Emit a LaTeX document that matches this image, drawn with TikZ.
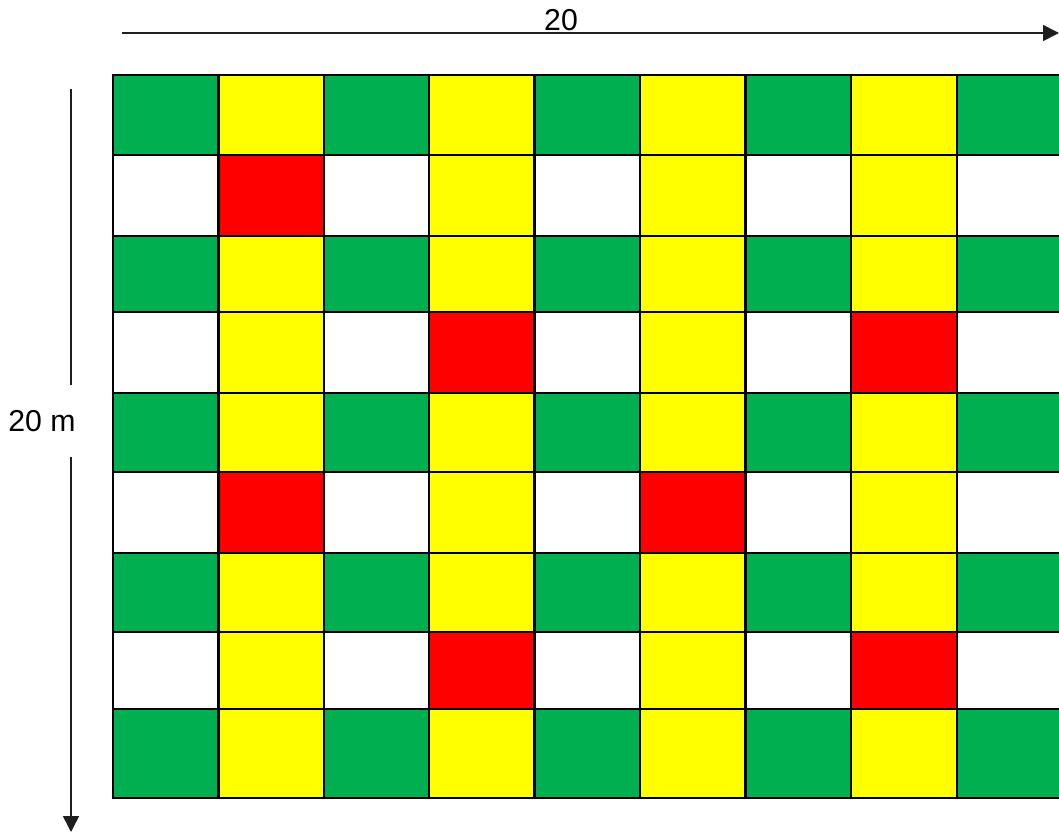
\documentclass[tikz,border=0pt]{standalone}
\usepackage{fontspec}
\setmainfont{Liberation Sans}
\usetikzlibrary{arrows.meta}
\definecolor{leaf}{RGB}{0,176,80}
\definecolor{sun}{RGB}{255,255,0}
\definecolor{fire}{RGB}{255,0,0}
\definecolor{ink}{RGB}{30,30,30}
\tikzset{
  >={Triangle[length=4mm,width=4mm]},
  gridline/.style={black,line width=1.5pt,line cap=rect},
  dim/.style={->,draw=ink,line width=1.1pt},
  lab/.style={font=\fontsize{21.5}{25}\selectfont,text=black},
}
% cell edges (pixels of the plan)
\def\xs{{113,218.5,324,429,534.5,640,745.5,851,957,1059}}
\def\ys{{75,155,236,312,393,472,553,632,709,798}}

\begin{document}
\begin{tikzpicture}[x=0.025cm,y=-0.025cm]
    \useasboundingbox (0,0) rectangle (1059,833);
    % cells
    \foreach \row [count=\i] in {
      {leaf,sun,leaf,sun,leaf,sun,leaf,sun,leaf},
      {white,fire,white,sun,white,sun,white,sun,white},
      {leaf,sun,leaf,sun,leaf,sun,leaf,sun,leaf},
      {white,sun,white,fire,white,sun,white,fire,white},
      {leaf,sun,leaf,sun,leaf,sun,leaf,sun,leaf},
      {white,fire,white,sun,white,fire,white,sun,white},
      {leaf,sun,leaf,sun,leaf,sun,leaf,sun,leaf},
      {white,sun,white,fire,white,sun,white,fire,white},
      {leaf,sun,leaf,sun,leaf,sun,leaf,sun,leaf}}
      \foreach \cl [count=\j] in \row {
        \pgfmathsetmacro\xa{\xs[\j-1]}
        \pgfmathsetmacro\xb{\xs[\j]}
        \pgfmathsetmacro\ya{\ys[\i-1]}
        \pgfmathsetmacro\yb{\ys[\i]}
        \fill[\cl] (\xa,\ya) rectangle (\xb,\yb);
      }
    % grid lines, open on the right
    \foreach \y in {75,155,236,312,393,472,553,632,709,798}
      \draw[gridline] (113,\y) -- (1062,\y);
    \foreach \x in {113,218.5,324,429,534.5,640,745.5,851,957}
      \draw[gridline] (\x,75) -- (\x,798);
    % dimensions
    \coordinate (htail) at (122,33);
    \coordinate (hhead) at (1059,33);
    \draw[dim] (htail) -- (hhead);
    \node[lab] (hlab) at (561,20) {20};
    \coordinate (vtail) at (71,89);
    \coordinate (vhead) at (71,832);
    \draw[dim] (vtail) -- (vhead);
    \node[lab,fill=white,minimum height=1.8cm] (vlab) at (42,421) {20 m};
\end{tikzpicture}
\end{document}
